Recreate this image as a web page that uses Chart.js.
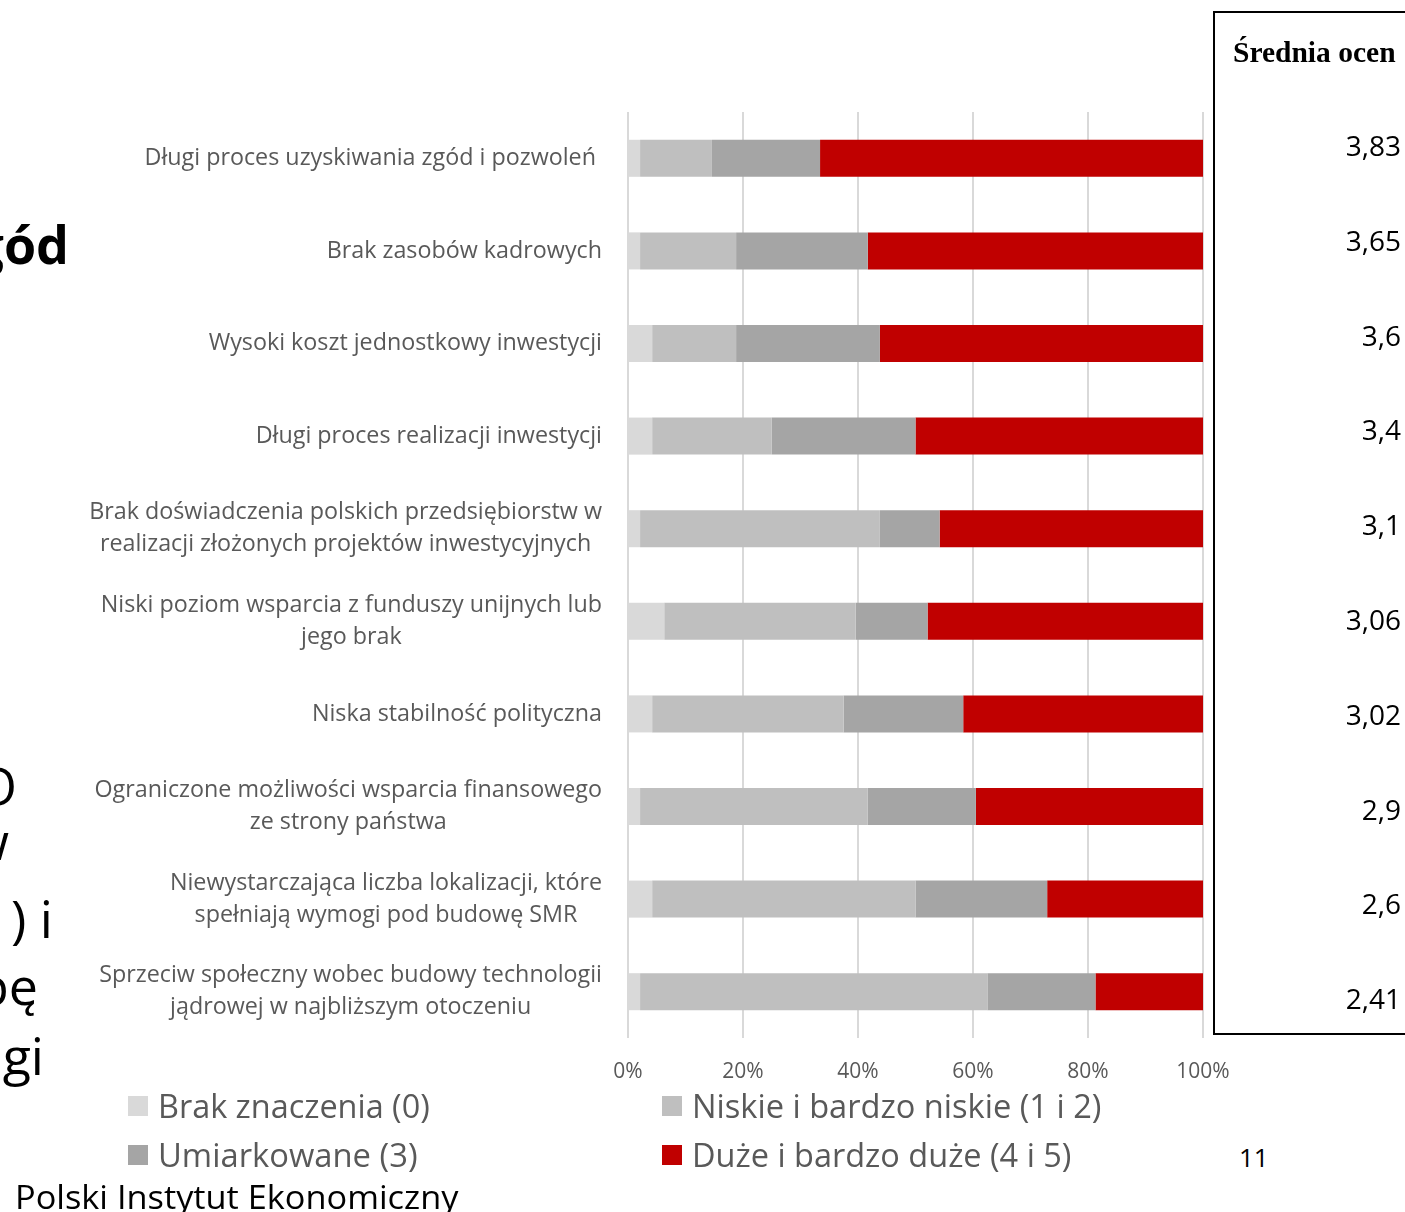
<!DOCTYPE html>
<html lang="pl">
<head>
<meta charset="utf-8">
<title>Bariery inwestycyjne SMR</title>
<script src="https://cdn.jsdelivr.net/npm/chart.js@4.4.1/dist/chart.umd.min.js"></script>
<style>
    html, body {
        margin: 0;
        padding: 0;
        background: #ffffff;
        width: 1405px;
        height: 1212px;
        overflow: hidden;
        font-family: 'Open Sans', sans-serif;
    }
    .abs { position: absolute; white-space: nowrap; }
    #chartWrap { position: absolute; left: 0; top: 0; width: 1230px; height: 1095px; }
    #avgBox {
        position: absolute;
        left: 1213px;
        top: 11px;
        width: 260px;
        height: 1024px;
        border: 2px solid #000;
        box-sizing: border-box;
    }
    #avgHeader {
        position: absolute;
        left: 1233px;
        top: 31px;
        font-family: 'Liberation Serif', serif;
        font-weight: bold;
        font-size: 29.5px;
        line-height: 42px;
        color: #000;
    }
    .avg { font-size: 28px; line-height: 40px; color: #000; text-align: right; }
    .pageNo { font-size: 26px; line-height: 40px; color: #000; }
    .legendItem { font-size: 33px; line-height: 44px; color: #595959; transform-origin: left center; }
    .legendBox { width: 20px; height: 20px; }
    .bigText { font-size: 52px; line-height: 64px; color: #000; }
</style>
</head>
<body>
<div id="chartWrap"><canvas id="barChart"></canvas></div>
<div id="avgBox"></div>
<div id="avgHeader" class="abs">Średnia ocen</div>
<div id="extras"></div>
<script>
// --- dane ---
const categories = [
    'Długi proces uzyskiwania zgód i pozwoleń ',
    'Brak zasobów kadrowych',
    'Wysoki koszt jednostkowy inwestycji',
    'Długi proces realizacji inwestycji',
    ['Brak doświadczenia polskich przedsiębiorstw w', 'realizacji złożonych projektów inwestycyjnych'],
    ['Niski poziom wsparcia z funduszy unijnych lub', 'jego brak'],
    'Niska stabilność polityczna',
    ['Ograniczone możliwości wsparcia finansowego', 'ze strony państwa'],
    ['Niewystarczająca liczba lokalizacji, które', 'spełniają wymogi pod budowę SMR'],
    ['Sprzeciw społeczny wobec budowy technologii', 'jądrowej w najbliższym otoczeniu']
];

const seriesNames = ['Brak znaczenia (0)', 'Niskie i bardzo niskie (1 i 2)', 'Umiarkowane (3)', 'Duże i bardzo duże (4 i 5)'];
const brakZnaczenia = [2.1, 2.1, 4.2, 4.2, 2.1, 6.3, 4.2, 2.1, 4.2, 2.1];
const niskie = [12.5, 16.7, 14.6, 20.8, 41.7, 33.3, 33.3, 39.6, 45.8, 60.4];
const umiarkowane = [18.8, 22.9, 25.0, 25.0, 10.4, 12.5, 20.8, 18.8, 22.9, 18.8];
const duze = [66.7, 58.3, 56.3, 50.0, 45.8, 47.9, 41.7, 39.6, 27.1, 18.8];

const srednieOcen = ['3,83', '3,65', '3,6', '3,4', '3,1', '3,06', '3,02', '2,9', '2,6', '2,41'];
const xTicks = [0, 20, 40, 60, 80, 100];

const colors = ['#d9d9d9', '#bfbfbf', '#a5a5a5', '#c00000'];
const labelColor = '#595959';

// etykiety osi Y rysowane recznie (linie wysrodkowane w bloku wyrownanym do prawej)
const yLabelPlugin = {
    id: 'yLabels',
    afterDraw(chart) {
        const ctx = chart.ctx;
        const yScale = chart.scales.y;
        const rightEdge = 602;
        const lineHeight = 32;
        ctx.save();
        ctx.font = '23.3px "Open Sans"';
        ctx.fillStyle = labelColor;
        ctx.textAlign = 'center';
        ctx.textBaseline = 'middle';
        categories.forEach((label, i) => {
            const lines = Array.isArray(label) ? label : [label];
            const maxW = Math.max(...lines.map(l => ctx.measureText(l).width));
            const cx = rightEdge - maxW / 2;
            const cy = yScale.getPixelForTick(i);
            lines.forEach((line, j) => {
                const y = cy + (j - (lines.length - 1) / 2) * lineHeight;
                ctx.fillText(line, cx, y);
            });
        });
        ctx.restore();
    }
};

const datasets = [brakZnaczenia, niskie, umiarkowane, duze].map((values, i) => ({
    label: seriesNames[i],
    data: values,
    backgroundColor: colors[i],
    borderWidth: 0,
    barPercentage: 0.4,
    categoryPercentage: 1.0
}));

new Chart(document.getElementById('barChart'), {
    type: 'bar',
    data: { labels: categories, datasets: datasets },
    options: {
        indexAxis: 'y',
        responsive: true,
        maintainAspectRatio: false,
        animation: false,
        layout: { padding: { top: 112, right: 27, left: 0, bottom: 0 } },
        plugins: {
            legend: { display: false },
            tooltip: { enabled: false }
        },
        scales: {
            x: {
                stacked: true,
                min: 0,
                max: 100,
                afterBuildTicks: axis => { axis.ticks = xTicks.map(v => ({ value: v })); },
                afterFit: axis => {
                    axis.height = 57;
                    axis.paddingLeft = 0;
                    axis.paddingRight = 0;
                },
                border: { display: false },
                grid: { color: '#d9d9d9', lineWidth: 2, drawTicks: false },
                ticks: {
                    padding: 21,
                    color: labelColor,
                    font: { family: 'Open Sans', size: 21 },
                    callback: v => v + '%'
                }
            },
            y: {
                stacked: true,
                afterFit: axis => { axis.width = 628; },
                border: { display: false },
                grid: { display: false },
                ticks: { display: false }
            }
        }
    },
    plugins: [yLabelPlugin]
});

// --- elementy slajdu poza wykresem ---
const extras = document.getElementById('extras');

function addText(text, cls, left, centerY, opts = {}) {
    const el = document.createElement('div');
    el.className = 'abs ' + cls;
    el.textContent = text;
    el.style.left = left + 'px';
    extras.appendChild(el);
    const h = el.offsetHeight;
    el.style.top = (centerY - h / 2) + 'px';
    if (opts.alignRight) el.style.transform = 'translateX(-100%)';
    if (opts.width) {
        const w = el.offsetWidth;
        el.style.transformOrigin = 'left center';
        el.style.transform = 'scaleX(' + (opts.width / w) + ')';
    }
    return el;
}

// srednie ocen w ramce po prawej
srednieOcen.forEach((v, i) => {
    addText(v, 'avg', 1401, 145 + i * 94.8, { alignRight: true });
});

// legenda
const legendPos = [[128, 1106], [662, 1106], [128, 1155], [662, 1155]];
const legendWidths = [272, 409, 260, 379];
seriesNames.forEach((name, i) => {
    const [x, y] = legendPos[i];
    const box = document.createElement('div');
    box.className = 'abs legendBox';
    box.style.left = x + 'px';
    box.style.top = (y - 10) + 'px';
    box.style.background = colors[i];
    extras.appendChild(box);
    addText(name, 'legendItem', x + 30, y, { width: legendWidths[i] });
});

// numer strony i stopka
addText('11', 'pageNo', 1239, 1157);
const footer = addText('Polski Instytut Ekonomiczny', 'legendItem', 15, 1197, { width: 443 });
footer.style.color = '#000';

// ucięty tekst slajdu po lewej
const bold = addText('zgód', 'bigText', 69, 244, { alignRight: true });
bold.style.fontWeight = 'bold';
const leftLines = [['O', 17, 785], ['w', 9, 840], ['(1) i', 53, 918], ['pę', 38, 985], ['gi', 44, 1055]];
leftLines.forEach(([t, x, y]) => addText(t, 'bigText', x, y, { alignRight: true }));
</script>
</body>
</html>
